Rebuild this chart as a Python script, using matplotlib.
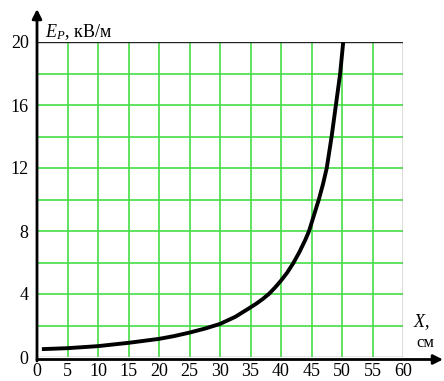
import matplotlib
matplotlib.use("Agg")
import matplotlib.pyplot as plt

plt.rcParams['font.family'] = ['Liberation Serif', 'DejaVu Serif']
plt.rcParams['mathtext.fontset'] = 'custom'
plt.rcParams['mathtext.rm'] = 'Liberation Serif'
plt.rcParams['mathtext.it'] = 'Liberation Serif:italic'

# Data
x_cm = [0.8, 5, 10, 15, 20, 22.5, 25, 27.5, 30, 32.5, 35, 36, 37, 38, 39, 40, 41, 42,
        43, 44, 44.6, 45.4, 46.2, 46.9, 47.5, 47.9, 48.3, 48.65, 49.0, 49.35, 49.7, 49.95, 50.2]
e_kvm = [0.5, 0.56, 0.69, 0.9, 1.15, 1.33, 1.55, 1.8, 2.1, 2.55, 3.15, 3.4, 3.68, 4.0, 4.4, 4.85,
         5.35, 5.95, 6.65, 7.45, 8.0, 9.0, 10.0, 11.0, 12.0, 13.0, 14.0, 15.0, 16.0, 17.0, 18.0, 19.0, 20.0]

x_ticks = [0, 5, 10, 15, 20, 25, 30, 35, 40, 45, 50, 55, 60]
y_ticks = [0, 4, 8, 12, 16, 20]
y_grid = [2, 4, 6, 8, 10, 12, 14, 16, 18]

W, H = 444, 381
fig = plt.figure(figsize=(W / 100, H / 100), dpi=100)
left, right, top, bottom = 37, 403, 42, 357
ax = fig.add_axes([left / W, (H - bottom) / H, (right - left) / W, (bottom - top) / H])
ax.set_xlim(0, 60)
ax.set_ylim(0, 20)

green = '#45dd45'
for xv in x_ticks[1:-1]:
    ax.axvline(xv, color=green, lw=1.2, zorder=1)
for yv in y_grid:
    ax.axhline(yv, color=green, lw=1.2, zorder=1)

for s in ['left', 'bottom', 'right', 'top']:
    ax.spines[s].set_visible(False)
ax.axhline(20, color='#222222', lw=1.0, zorder=2)
ax.axvline(60, color='#555555', lw=1.0, zorder=2)
ax.axhline(0, color='#888888', lw=1.0, zorder=2)

ax.plot(x_cm, e_kvm, color='black', lw=2.8, solid_capstyle='butt',
        solid_joinstyle='round', zorder=3)

ax.set_xticks(x_ticks)
ax.set_yticks(y_ticks)
ax.tick_params(axis='both', length=0, labelsize=13)
ax.tick_params(axis='x', pad=4)
ax.tick_params(axis='y', pad=6)

# axis arrows
ax.annotate('', xy=(left / W, (H - 9) / H), xytext=(left / W, (H - 361) / H),
            xycoords='figure fraction', textcoords='figure fraction',
            arrowprops=dict(arrowstyle='-|>', color='black', lw=2.0,
                            mutation_scale=14, shrinkA=0, shrinkB=0))
ax.annotate('', xy=(443 / W, (H - 359.5) / H), xytext=(left / W, (H - 359.5) / H),
            xycoords='figure fraction', textcoords='figure fraction',
            arrowprops=dict(arrowstyle='-|>', color='black', lw=2.0,
                            mutation_scale=14, shrinkA=0, shrinkB=0))

fig.text(45 / W, (H - 37) / H, r'$E_P$, кВ/м', fontsize=13, ha='left', va='baseline')
fig.text(413 / W, (H - 327) / H, r'$X$,', fontsize=13, ha='left', va='baseline')
fig.text(416 / W, (H - 347) / H, 'см', fontsize=12, ha='left', va='baseline')

fig.savefig('out.png', dpi=100)
